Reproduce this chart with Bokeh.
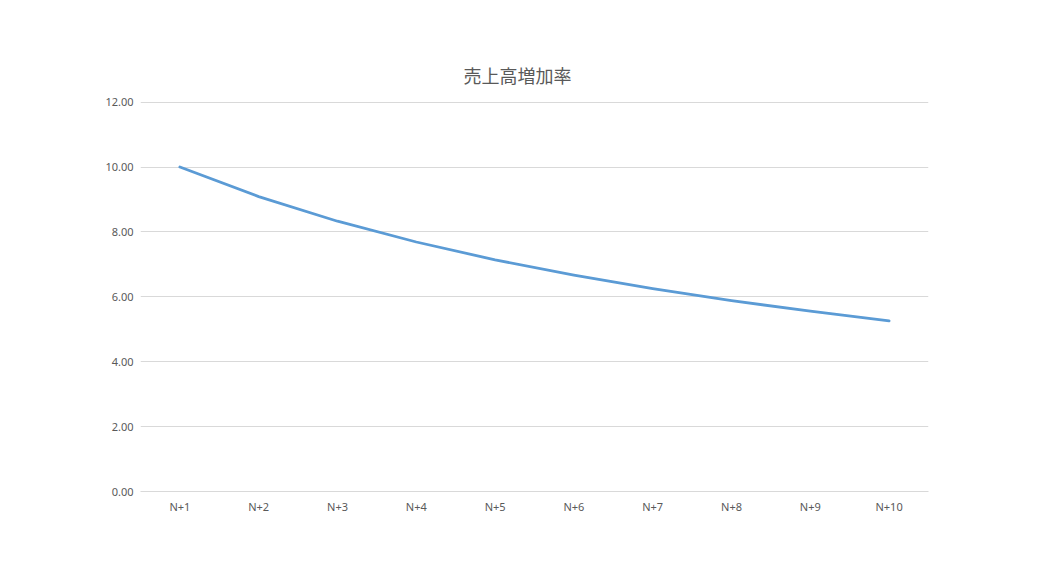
from bokeh.plotting import figure
from bokeh.models import Range1d, FactorRange, NumeralTickFormatter, FixedTicker
from bokeh.embed import file_html
from bokeh.resources import INLINE

categories = ["N+1", "N+2", "N+3", "N+4", "N+5", "N+6", "N+7", "N+8", "N+9", "N+10"]
growth_rate = [10.00, 9.09, 8.33, 7.69, 7.14, 6.67, 6.25, 5.88, 5.56, 5.26]
y_ticks = [0, 2, 4, 6, 8, 10, 12]
title_text = "売上高増加率"

p = figure(width=1029, height=567, x_range=FactorRange(*categories, range_padding=0),
           y_range=Range1d(0, 12.02), output_backend="svg", toolbar_location=None,
           min_border_left=140, min_border_right=101, min_border_top=101, min_border_bottom=76)

p.title.text = title_text
p.title.align = "left"
p.title.text_font = "Noto Sans CJK JP"
p.title.text_font_size = "18px"
p.title.text_font_style = "normal"
p.title.text_color = "#595959"
p.title.offset = 323
p.title.standoff = 28

p.line(categories, growth_rate, line_color="#5B9BD5", line_width=2.8, line_join="round", line_cap="round")

p.outline_line_color = None
p.xgrid.grid_line_color = None
p.ygrid.grid_line_color = "#d9d9d9"
p.ygrid.grid_line_width = 1

p.yaxis.ticker = FixedTicker(ticks=y_ticks)
p.yaxis.formatter = NumeralTickFormatter(format="0.00")
p.yaxis.axis_line_color = None
p.yaxis.major_tick_line_color = None
p.yaxis.minor_tick_line_color = None
p.yaxis.major_label_text_font = "Noto Sans"
p.yaxis.major_label_text_font_size = "11px"
p.yaxis.major_label_text_color = "#595959"
p.yaxis.major_label_standoff = 1

p.xaxis.axis_line_color = "#d9d9d9"
p.xaxis.major_tick_line_color = None
p.xaxis.minor_tick_line_color = None
p.xaxis.major_label_text_font = "Noto Sans"
p.xaxis.major_label_text_font_size = "11px"
p.xaxis.major_label_text_color = "#595959"
p.xaxis.major_label_standoff = 1

open("out.html", "w").write(file_html(p, INLINE))
